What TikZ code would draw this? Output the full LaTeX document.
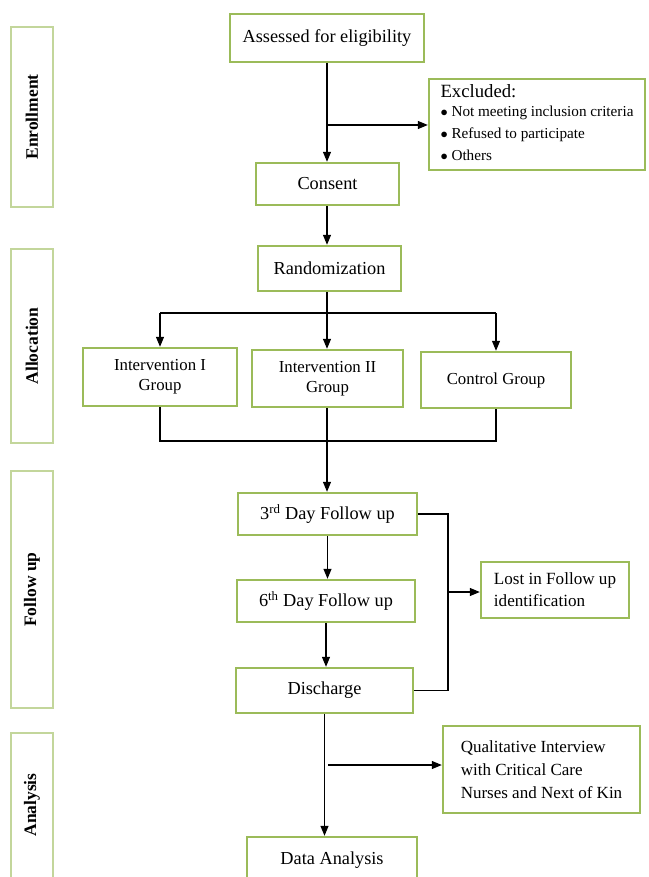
\documentclass[tikz,border=0pt]{standalone}
\usepackage{fontspec}
\setmainfont{Liberation Serif}
\usetikzlibrary{arrows.meta}

\definecolor{boxgreen}{RGB}{155,187,89}
\definecolor{sidegreen}{RGB}{195,214,155}

\tikzset{
  stage/.style={draw=boxgreen, line width=2.4pt, fill=white, align=center,
    font=\fontsize{18.3}{22}\selectfont, inner sep=4pt},
  group/.style={stage, font=\fontsize{16.8}{20}\selectfont},
  sidebox/.style={draw=sidegreen, line width=1.3pt},
  sidelabel/.style={rotate=90, font=\fontsize{17.5}{20}\selectfont\bfseries},
  link/.style={line width=1.1pt, -{Triangle[length=10pt,width=8pt]}},
  plain/.style={line width=1.1pt}
}

\begin{document}
\begin{tikzpicture}[x=1pt,y=-1pt]
		\useasboundingbox (0,0) rectangle (648,877);
		
		% Phase boxes on the left: name / top / bottom
		\foreach \name/\top/\bot in {Enrollment/27/207, Allocation/249/443, Follow up/471/708, Analysis/733/884} {
			\draw[sidebox] (11,\top) rectangle (53,\bot);
			\node[sidelabel] at (32,{(\top+min(\bot,877))/2}) {\name};
		}
		
		% Enrollment
		\node[stage, minimum width=194pt, minimum height=48pt] (assess) at (327,38) {Assessed for eligibility};
		\node[stage, minimum width=216pt, minimum height=91pt, inner sep=0pt] (excl) at (537,124.5)
			{\begin{tabular}{@{}l@{}}
			 \fontsize{18.7}{19}\selectfont Excluded:\\[-3pt]
			 \fontsize{15.2}{21.5}\selectfont $\bullet$ Not meeting inclusion criteria\\
			 \fontsize{15.2}{21.5}\selectfont $\bullet$ Refused to participate\\
			 \fontsize{15.2}{21.5}\selectfont $\bullet$ Others
			 \end{tabular}};
		\node[stage, minimum width=143pt, minimum height=42pt] (consent) at (327.5,184) {Consent};
		
		% Allocation
		\node[stage, minimum width=143pt, minimum height=45pt] (random) at (329.5,268.5) {Randomization};
		\node[group, minimum width=154pt, minimum height=58pt] (int1) at (160,377) {Intervention I\\Group};
		\node[group, minimum width=151pt, minimum height=57pt] (int2) at (327.5,378.5) {Intervention II\\Group};
		\node[group, minimum width=150pt, minimum height=56pt] (ctrl) at (496,380) {Control Group};
		
		% Follow up
		\node[stage, minimum width=179pt, minimum height=42pt] (day3) at (327.5,514) {3\textsuperscript{rd} Day Follow up};
		\node[stage, minimum width=178pt, minimum height=42pt] (day6) at (326,601) {6\textsuperscript{th} Day Follow up};
		\node[stage, minimum width=177pt, minimum height=45pt] (disch) at (324.5,690.5) {Discharge};
		\node[stage, minimum width=148pt, minimum height=56pt, align=left, font=\fontsize{17.1}{22}\selectfont] (lost) at (555,590) {Lost in Follow up\\identification};
		
		% Analysis
		\node[stage, minimum width=197pt, minimum height=87pt, align=left, font=\fontsize{17}{23}\selectfont] (qual) at (541.5,769.5)
			{Qualitative Interview\\with Critical Care\\Nurses and Next of Kin};
		\node[stage, minimum width=170pt, minimum height=48pt] (data) at (332,861) {\raisebox{5pt}{Data Analysis}};
		
		% Connectors
		\coordinate (spine1) at (327,125);
		\draw[link] (spine1 |- assess.south) -- (spine1 |- consent.north);
		\draw[link] (spine1) -- (spine1 -| excl.west);
		\draw[link] (spine1 |- consent.south) -- (spine1 |- random.north);
		
		\coordinate (split) at (327,313);
		\draw[plain] (split |- random.south) -- (split);
		\draw[plain] (int1.north |- split) -- (ctrl.north |- split);
		\draw[link] (int1.north |- split) -- (int1.north);
		\draw[link] (split) -- (split |- int2.north);
		\draw[link] (ctrl.north |- split) -- (ctrl.north);
		
		\coordinate (join) at (327,441);
		\draw[plain] (int1.south) -- (int1.south |- join) -- (ctrl.south |- join) -- (ctrl.south);
		\draw[plain] (join |- int2.south) -- (join);
		\draw[link] (join) -- (join |- day3.north);
		
		\draw[link] (day3.south) -- (day3.south |- day6.north);
		\draw[link] (day6.south) -- (day6.south |- disch.north);
		
		\coordinate (bracket) at (448,592);
		\draw[plain] (day3.east) -- (day3.east -| bracket) -- (disch.east -| bracket) -- (disch.east);
		\draw[link] (bracket) -- (bracket -| lost.west);
		
		\coordinate (spine2) at (328,765);
		\draw[link] (disch.south) -- (disch.south |- data.north);
		\draw[link] (spine2) -- (spine2 -| qual.west);
		
	\end{tikzpicture}
\end{document}
